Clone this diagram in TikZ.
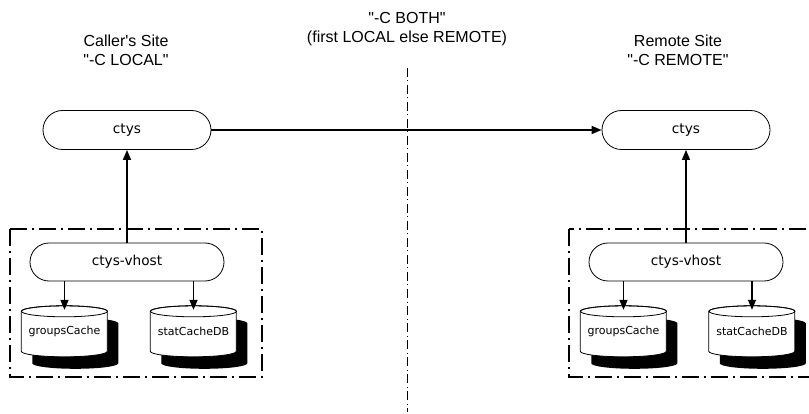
\documentclass[tikz,border=0pt]{standalone}
\usepackage{fontspec}
\setmainfont{Liberation Sans}
\newfontfamily\boxfont{DejaVu Sans}
\usetikzlibrary{%
    positioning,
    shapes.misc,
    arrows.meta
}
\newcommand{\qq}{\textquotedbl}
\tikzset{
    proc/.style = {
        rounded rectangle, draw=black, line width=0.8pt,
        fill=white, inner sep=0pt,
        minimum width = 168pt, minimum height = 39pt,
        font=\boxfont\fontsize{13.7}{16}\selectfont,
    },
    store/.style = {
        rectangle, inner sep=0pt,
        minimum width = 86pt, minimum height = 51pt,
        font=\boxfont\fontsize{11}{13}\selectfont,
    },
    % outline of a database drum, started at its north west corner
    drum/.style = {
        insert path = {
            ++(0,5.5) -- ++(0,40)
            arc[start angle=180, end angle=0, x radius=43, y radius=5.5]
            -- ++(0,-40)
            arc[start angle=0, end angle=-180, x radius=43, y radius=5.5]
            -- cycle
        }
    },
    label/.style = {
        align=center, inner sep=0pt,
        font=\fontsize{16}{19}\selectfont,
    },
    site/.style = {
        line width=1.2pt,
        dash pattern=on 17pt off 5pt on 2pt off 5pt,
    },
    divider/.style = {
        line width=0.8pt,
        dash pattern=on 9pt off 3.5pt on 1pt off 3.5pt,
    },
    link/.style = {
        line width=1.4pt,
        -{Triangle[length=10pt,width=8pt]},
    },
}

\begin{document}
\begin{tikzpicture}[x=1pt, y=-1pt]
    \useasboundingbox (0,0) rectangle (809,414);
    \clip (0,0) rectangle (809,414);

    % site labels
    \node[label] (callerlbl) at (126, 50.5)
        {Caller\textquotesingle s Site\\\qq-C LOCAL\qq};
    \node[label] (bothlbl) at (407, 29.5)
        {\qq-C BOTH\qq\\(first LOCAL else REMOTE)};
    \node[label] (remotelbl) at (678, 50.5)
        {Remote Site\\\qq-C REMOTE\qq};

    % divider between the sites
    \coordinate (divtop) at (407, 68);
    \coordinate (divbot) at (407, 412);
    \draw[divider] (divtop) -- (divbot);

    % caller's site
    \node[proc] (ctysL) at (127, 130) {ctys};
    \draw[site] (10, 229) rectangle (262, 377);
    \node[proc, minimum width = 194pt, minimum height = 38pt]
        (vhostL) at (127, 262) {ctys-vhost};

    % remote site
    \node[proc] (ctysR) at (686, 130) {ctys};
    \draw[site] (569, 229) rectangle (815, 377);
    \node[proc, minimum width = 194pt, minimum height = 38pt]
        (vhostR) at (686, 262) {ctys-vhost};

    % caches, drums drawn first, names on top
    \path (64.5, 331.5)  coordinate (groupsLc)
          (193.5, 331.5) coordinate (statLc)
          (623.5, 331.5) coordinate (groupsRc)
          (752, 331.5)   coordinate (statRc);
    \foreach \db in {groupsL, statL, groupsR, statR} {
        \node[store] (\db) at (\db c) {};
        \fill[black] ([shift={(11pt,-12pt)}]\db.north west) [drum];
        \filldraw[fill=white, line width=0.8pt] (\db.north west) [drum];
        \draw[line width=0.8pt] ([yshift=-5.5pt]\db.north)
            ellipse [x radius=43, y radius=5.5];
    }
    \node[store] at (groupsLc) {groupsCache};
    \node[store] at (statLc) {statCacheDB};
    \node[store] at (groupsRc) {groupsCache};
    \node[store] at (statRc) {statCacheDB};

    % connectors
    \draw[link] (ctysL.east) -- (ctysR.west);
    \draw[link] (vhostL.north) -- (ctysL.south);
    \draw[link] (vhostR.north) -- (ctysR.south);
    \foreach \db in {groupsL, statL, groupsR, statR} {
        \draw[link] (vhostL.south -| \db.north) -- ([yshift=-4pt]\db.north);
    }
\end{tikzpicture}
\end{document}
